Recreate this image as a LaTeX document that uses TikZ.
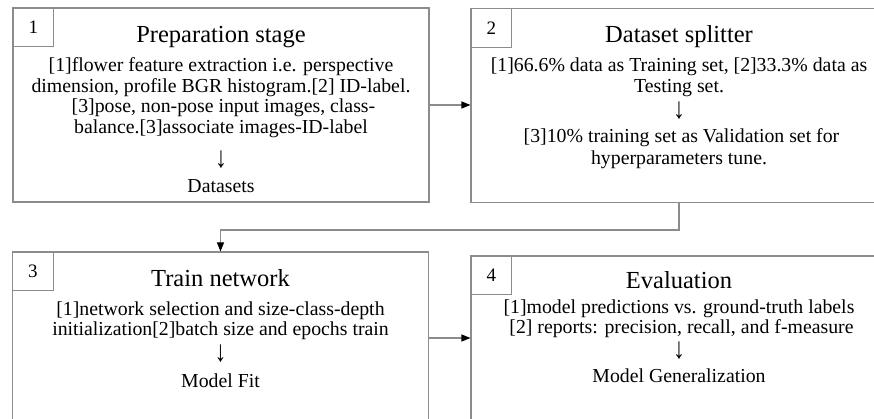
\documentclass[tikz,border=0pt]{standalone}
\usepackage{fontspec}
\setmainfont{Liberation Serif}
\usetikzlibrary{positioning,arrows.meta}
\definecolor{linegray}{RGB}{140,140,140}
\newcommand{\dnarrow}{\scalebox{1.2}[1.5]{↓}}

\begin{document}
\begin{tikzpicture}[x=1pt,y=-1pt,
    stage/.style={draw=linegray, line width=1.1pt, minimum width=416pt, minimum height=194pt, inner sep=0pt},
    numbox/.style={draw=linegray, line width=0.8pt, minimum width=41pt, minimum height=39pt, anchor=north west, inner sep=0pt, font=\fontsize{19}{19}\selectfont},
    ttl/.style={anchor=base, inner sep=0pt, font=\fontsize{24.5}{25}\selectfont},
    body/.style={anchor=north, align=center, inner sep=0pt, font=\fontsize{19.8}{20.5}\selectfont},
    conn/.style={draw=linegray, line width=1.1pt, -{Triangle[length=9pt,width=7pt,black]}}]
  \useasboundingbox (0,0) rectangle (874,419);
  \clip (0,0) rectangle (874,419);

  % the four stages
  \node[stage] (prep) at (221,105) {};
  \node[stage] (split) at (679,105.5) {};
  \node[stage] (train) at (220.5,349) {};
  \node[stage] (eval) at (679,353) {};

  \node[numbox] (n1) at (prep.north west) {1};
  \node[numbox] (n2) at (split.north west) {2};
  \node[numbox] (n3) at (train.north west) {3};
  \node[numbox] (n4) at (eval.north west) {4};

  \node[ttl] (t1) at ([yshift=-35pt]prep.north) {Preparation stage};
  \node[ttl] (t2) at ([yshift=-35pt]split.north) {Dataset splitter};
  \node[ttl] (t3) at ([yshift=-35pt]train.north) {Train network};
  \node[ttl] (t4) at ([yshift=-33pt]eval.north) {Evaluation};

  \node[body] (b1) at ([yshift=-50pt]prep.north) {[1]flower feature extraction i.e. perspective\\
    dimension, profile BGR histogram.[2] ID-label.\\{}
    [3]pose, non-pose input images, class-\\
    balance.[3]associate images-ID-label\\[12pt]
    \dnarrow\\[5pt]
    Datasets};
  \node[body] (b2) at ([yshift=-50pt]split.north) {[1]66.6\% data as Training set, [2]33.3\% data as\\
    Testing set.\\[4pt]
    \dnarrow\\[4pt]{}
    [3]10\% training set as Validation set for\\[1pt]
    hyperparameters tune.};
  \node[body] (b3) at ([yshift=-50pt]train.north) {[1]network selection and size-class-depth\\
    initialization[2]batch size and epochs train\\[4pt]
    \dnarrow\\[5pt]
    Model Fit};
  \node[body] (b4) at ([yshift=-44pt]eval.north) {[1]model predictions vs. ground-truth labels\\{}
    [2] reports: precision, recall, and f-measure\\[3pt]
    \dnarrow\\[3pt]
    Model Generalization};

  % connectors
  \draw[conn] (prep.east) -- (prep.east -| split.west);
  \draw[conn] (split.south) -- ++(0,27) -| (train.north);
  \draw[conn] ([yshift=11pt]train.east) -- ([yshift=11pt]train.east -| eval.west);
\end{tikzpicture}
\end{document}
